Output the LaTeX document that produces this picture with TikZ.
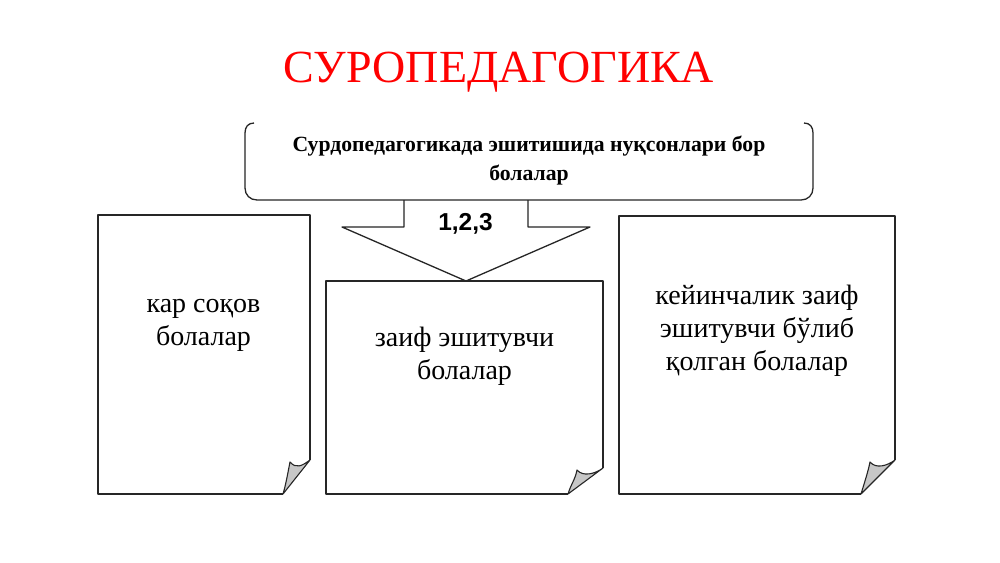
\documentclass[tikz,border=0pt]{standalone}
\usepackage{fontspec}
\setmainfont{Liberation Serif}
\newfontfamily\arialfont{Liberation Sans}
\tikzset{
  outline/.style={draw=black!85, line width=1.3pt, line join=round},
  curl/.style={draw=black!85, line width=1.1pt, fill=black!22, line join=round},
  boxtext/.style={align=center, inner sep=0pt, anchor=base,
    font=\fontsize{28}{33}\selectfont},
  headtext/.style={align=center, inner sep=0pt, anchor=base,
    font=\fontsize{21.7}{29}\selectfont\bfseries},
}
% #1 L, #2 T, #3 R, #4 B, #5 dy of right end, #6 dx of bottom end, #7 tip dx, #8 tip dy
\newcommand\curlpage[8]{%
  \draw[outline] (#3,{#4-#5}) -- (#3,#2) -- (#1,#2) -- (#1,#4) -- ({#3-#6},#4);
  \draw[curl] ({#3-#6},#4) .. controls ({#3-#6+3},{#4-10}) and ({#3-#7-2},{#4-#8+10}) .. ({#3-#7},{#4-#8})
     .. controls ({#3-#7+6},{#4-#8+7}) and ({#3-8},{#4-#5+6}) .. (#3,{#4-#5}) -- cycle;
}
\begin{document}
\begin{tikzpicture}[x=1pt,y=-1pt]
\useasboundingbox (0,0) rectangle (1000,562);
\fill[white] (0,0) rectangle (1000,562);

% title
\node[text=red, inner sep=0pt, anchor=base, font=\fontsize{46}{50}\selectfont] (title) at (499,82) {СУРОПЕДАГОГИКА};

% header box (top edge hidden)
\draw[outline] (254,123) .. controls (248,123) and (245,127) .. (245,133) -- (245,188)
  .. controls (245,195) and (250,200) .. (257,200) -- (801,200)
  .. controls (808,200) and (813,195) .. (813,188) -- (813,133)
  .. controls (813,127) and (810,123) .. (804,123);
\node[headtext] (head) at (529,180) {Сурдопедагогикада эшитишида нуқсонлари бор\\болалар};

% block arrow
\coordinate (a1) at (404,200);
\coordinate (a2) at (528,200);
\coordinate (tip) at (466,281);
\draw[outline] (a1) -- (404,227) -- (342,227) -- (tip) -- (590,227) -- (528,227) -- (a2);
\node[inner sep=0pt, anchor=base, font=\arialfont\fontsize{24.5}{26}\selectfont\bfseries] (num) at (465.5,230) {1,2,3};

% pages
\curlpage{98}{215}{310}{494}{34}{27}{20}{32}
\curlpage{326}{281}{603}{494}{26}{35}{26}{24}
\curlpage{619}{216}{895}{494}{34}{34}{25}{32}

\node[boxtext] (t1) at (203.5,345) {кар соқов\\болалар};
\node[boxtext] (t2) at (464.5,379) {заиф эшитувчи\\болалар};
\node[boxtext] (t3) at (757,370) {кейинчалик заиф\\эшитувчи бўлиб\\қолган болалар};
\end{tikzpicture}
\end{document}
